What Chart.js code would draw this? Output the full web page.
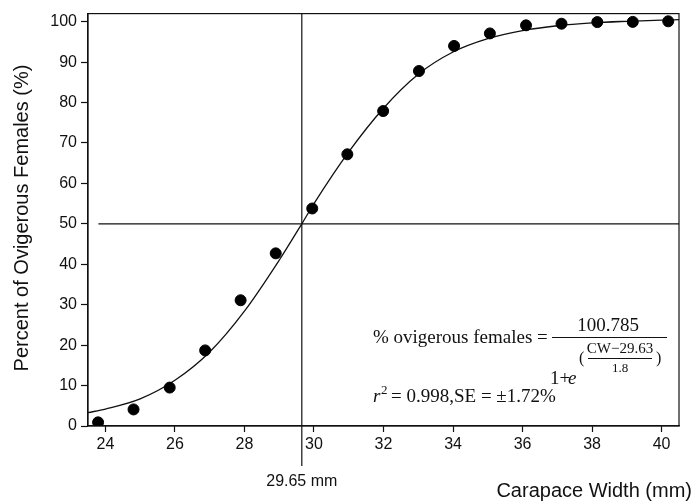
<!DOCTYPE html>
<html>
<head>
<meta charset="utf-8">
<script src="https://cdn.jsdelivr.net/npm/chart.js@4.4.1/dist/chart.umd.min.js"></script>
<style>
    html, body { margin: 0; padding: 0; background: #ffffff; }
    #wrap { width: 697px; height: 502px; position: relative; }
</style>
</head>
<body>
<div id="wrap"><canvas id="chart"></canvas></div>
<script>
// Observed data: carapace width (mm) vs percent ovigerous females
const widthMm = [23.79, 24.81, 25.85, 26.87, 27.89, 28.9, 29.95, 30.96, 31.99, 33.02, 34.03, 35.06, 36.1, 37.12, 38.15, 39.17, 40.19];
const percentOvig = [0.9, 4.1, 9.5, 18.7, 31.1, 42.7, 53.8, 67.2, 77.9, 87.8, 94.0, 97.1, 99.1, 99.5, 99.9, 99.95, 100.1];

// Fitted logistic curve
const curveX = [23.5, 24, 25, 26, 27, 28, 29, 29.65, 30, 31, 32, 33, 34, 35, 36, 37, 38, 39, 40, 40.5];
const curveY = [3.3, 4.2, 6.7, 11.3, 18.3, 28.4, 41.0, 50.0, 55.0, 67.8, 78.6, 87.0, 92.5, 95.8, 97.8, 99.0, 99.7, 100.1, 100.4, 100.5];

// Reference lines
const halfLineX = [23.8, 40.5];
const halfLineY = [50, 50];
const size50 = 29.65;

// Axis ticks
const xTicks = [24, 26, 28, 30, 32, 34, 36, 38, 40];
const yTicks = [0, 10, 20, 30, 40, 50, 60, 70, 80, 90, 100];

const INK = '#111111';
const SANS = "'Liberation Sans', Arial, sans-serif";
const SERIF = "'Liberation Serif', 'Times New Roman', serif";

// Frame, vertical L50 line, titles and the equation
const annotations = {
    id: 'annotations',
    afterDatasetsDraw(chart) {
        const { ctx, chartArea: a, scales } = chart;
        ctx.save();
        ctx.strokeStyle = INK;
        ctx.lineWidth = 1.2;
        ctx.strokeRect(a.left, a.top, a.right - a.left, a.bottom - a.top);

        // vertical line at the size at 50% maturity, running below the axis
        const vx = scales.x.getPixelForValue(size50);
        ctx.beginPath();
        ctx.moveTo(vx, a.top);
        ctx.lineTo(vx, a.bottom + 40);
        ctx.stroke();

        ctx.fillStyle = INK;
        ctx.font = '16px ' + SANS;
        ctx.textAlign = 'center';
        ctx.textBaseline = 'middle';
        ctx.fillText(size50 + ' mm', vx, 482);

        ctx.font = '20px ' + SANS;
        ctx.textAlign = 'right';
        ctx.fillText('Carapace Width (mm)', 692, 491);

        ctx.save();
        ctx.translate(22, 218);
        ctx.rotate(-Math.PI / 2);
        ctx.textAlign = 'center';
        ctx.fillText('Percent of Ovigerous Females (%)', 0, 0);
        ctx.restore();

        // equation
        ctx.textBaseline = 'alphabetic';
        ctx.textAlign = 'left';
        ctx.font = '19px ' + SERIF;
        ctx.fillText('% ovigerous females =', 373, 343);
        ctx.lineWidth = 1;
        ctx.beginPath();
        ctx.moveTo(552, 337.5);
        ctx.lineTo(667, 337.5);
        ctx.stroke();
        ctx.textAlign = 'center';
        ctx.fillText('100.785', 608, 331);
        ctx.textAlign = 'left';
        ctx.fillText('1+', 550, 384);
        ctx.font = 'italic 19px ' + SERIF;
        ctx.fillText('e', 568, 384);

        ctx.font = '16px ' + SERIF;
        ctx.fillText('(', 579, 363);
        ctx.fillText(')', 656, 363);
        ctx.font = '15px ' + SERIF;
        ctx.textAlign = 'center';
        ctx.fillText('CW\u221229.63', 620, 353);
        ctx.font = '13px ' + SERIF;
        ctx.fillText('1.8', 620, 372);
        ctx.beginPath();
        ctx.moveTo(588, 358.5);
        ctx.lineTo(652, 358.5);
        ctx.stroke();

        ctx.textAlign = 'left';
        ctx.font = 'italic 19px ' + SERIF;
        ctx.fillText('r', 373, 402);
        ctx.font = '13px ' + SERIF;
        ctx.fillText('2', 381, 394);
        ctx.font = '19px ' + SERIF;
        ctx.fillText('= 0.998,SE = \u00b11.72%', 391, 402);
        ctx.restore();
    }
};

new Chart(document.getElementById('chart'), {
    type: 'scatter',
    data: {
        datasets: [
            {
                label: 'Observed',
                data: widthMm.map((x, i) => ({ x: x, y: percentOvig[i] })),
                backgroundColor: '#000000',
                borderColor: '#000000',
                pointRadius: 5.5,
                order: 0
            },
            {
                label: 'Logistic fit',
                data: curveX.map((x, i) => ({ x: x, y: curveY[i] })),
                showLine: true,
                borderColor: INK,
                borderWidth: 1.3,
                pointRadius: 0,
                cubicInterpolationMode: 'monotone',
                order: 1
            },
            {
                label: '50%',
                data: halfLineX.map((x, i) => ({ x: x, y: halfLineY[i] })),
                showLine: true,
                borderColor: INK,
                borderWidth: 1.2,
                pointRadius: 0,
                order: 2
            }
        ]
    },
    options: {
        responsive: true,
        maintainAspectRatio: false,
        animation: false,
        layout: { padding: { top: 12, right: 18, left: 0, bottom: 0 } },
        plugins: {
            legend: { display: false },
            tooltip: { enabled: false }
        },
        scales: {
            x: {
                type: 'linear',
                min: 23.5,
                max: 40.5,
                afterBuildTicks: scale => { scale.ticks = xTicks.map(v => ({ value: v })); },
                afterFit: scale => { scale.height = 76; },
                border: { color: INK, width: 1.2 },
                grid: { drawOnChartArea: false, drawTicks: true, tickLength: 6, color: INK, tickWidth: 1.2 },
                ticks: { color: INK, padding: 3, maxRotation: 0, font: { family: SANS, size: 16 } }
            },
            y: {
                type: 'linear',
                min: 0,
                max: 102,
                afterBuildTicks: scale => { scale.ticks = yTicks.map(v => ({ value: v })); },
                afterFit: scale => { scale.width = 88; },
                border: { color: INK, width: 1.2 },
                grid: { drawOnChartArea: false, drawTicks: true, tickLength: 7, color: INK, tickWidth: 1.2 },
                ticks: { color: INK, padding: 4, font: { family: SANS, size: 16 } }
            }
        }
    },
    plugins: [annotations]
});
</script>
</body>
</html>
